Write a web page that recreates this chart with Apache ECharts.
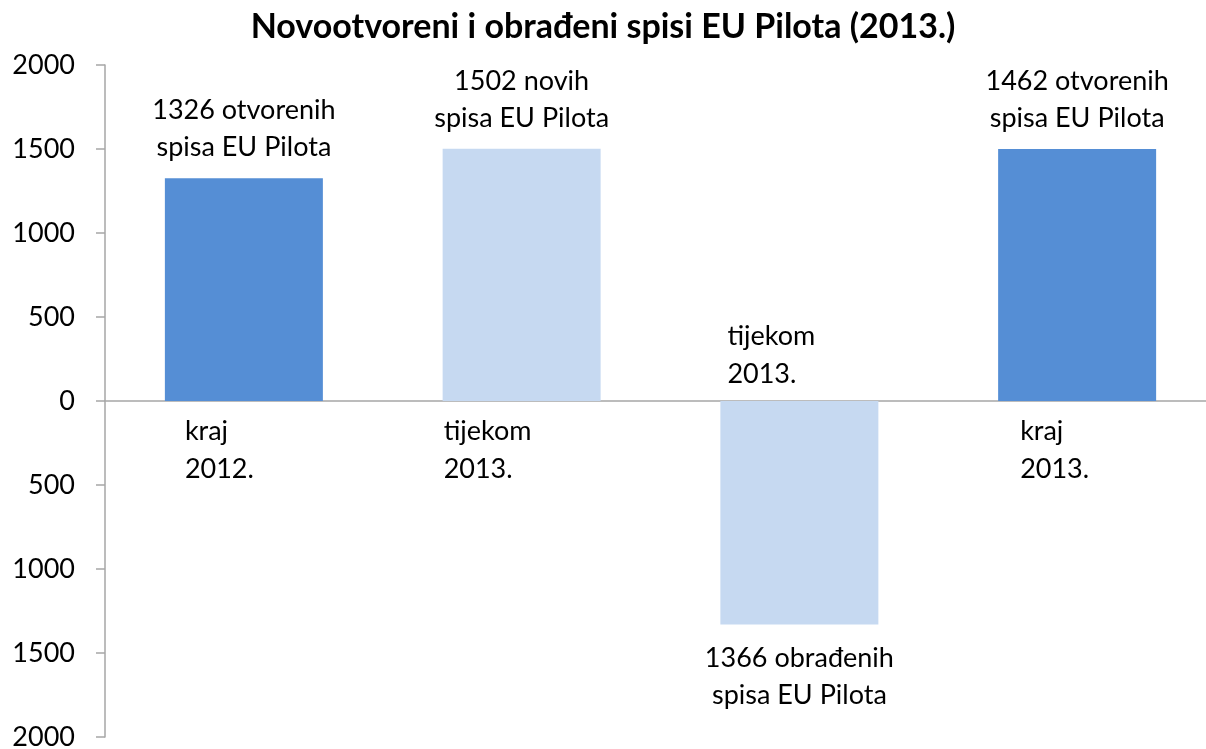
<!DOCTYPE html>
<html>
<head>
<meta charset="utf-8">
<script src="https://cdn.jsdelivr.net/npm/echarts@6/dist/echarts.min.js"></script>
<style>
  html, body { margin: 0; padding: 0; background: #fff; }
  #main { width: 1206px; height: 749px; }
</style>
</head>
<body>
<div id="main"></div>
<script>
// podaci
const categories = ['kraj\n2012.', 'tijekom\n2013.', 'tijekom\n2013.', 'kraj\n2013.'];
const values = [1326, 1502, -1330, 1500];
const valueLabels = [
  '1326 otvorenih\nspisa EU Pilota',
  '1502 novih\nspisa EU Pilota',
  '1366 obrađenih\nspisa EU Pilota',
  '1462 otvorenih\nspisa EU Pilota'
];
const yTicks = [-2000, -1500, -1000, -500, 0, 500, 1000, 1500, 2000];

const dark = '#558ED5';
const light = '#C6D9F1';
const barColors = [dark, light, light, dark];
const labelWidths = [118, 156, 144, 114];
const font = 'Lato, "Open Sans", sans-serif';
const fs = 27;

const chart = echarts.init(document.getElementById('main'));

const rich = {};
labelWidths.forEach(function (w, i) {
  rich['c' + i] = { width: w, align: 'left', fontSize: fs, lineHeight: 38, color: '#000', fontFamily: font };
});

chart.setOption({
  backgroundColor: '#fff',
  animation: false,
  title: {
    text: 'Novootvoreni i obrađeni spisi EU Pilota (2013.)',
    left: 'center',
    top: 5,
    textStyle: { fontFamily: font, fontWeight: 'bold', fontSize: 34, color: '#000' }
  },
  grid: { left: 105, right: -10, top: 65, bottom: 12, containLabel: false, outerBoundsMode: 'none' },
  xAxis: {
    type: 'category',
    offset: -336,
    data: categories.map(function (c, i) {
      if (values[i] < 0) {
        return { value: c, textStyle: { verticalAlign: 'bottom', padding: [0, 0, 19, 0] } };
      }
      return { value: c, textStyle: { verticalAlign: 'top' } };
    }),
    axisLine: { onZero: false, lineStyle: { color: '#A6A6A6', width: 1.5 } },
    axisTick: { show: false },
    axisLabel: {
      interval: 0,
      margin: 11,
      align: 'center',
      formatter: function (v, i) {
        return v.split('\n').map(function (s) { return '{c' + i + '|' + s + '}'; }).join('\n');
      },
      rich: rich
    }
  },
  yAxis: {
    type: 'value',
    min: yTicks[0],
    max: yTicks[yTicks.length - 1],
    interval: 500,
    splitLine: { show: false },
    axisLine: { show: true, lineStyle: { color: '#A6A6A6', width: 1.5 } },
    axisTick: { show: true, length: 9, lineStyle: { color: '#A6A6A6', width: 1.5 } },
    axisLabel: {
      margin: 30,
      fontSize: fs,
      color: '#000',
      fontFamily: font,
      formatter: function (v) { return String(Math.abs(v)); }
    }
  },
  series: [{
    type: 'bar',
    barWidth: 158,
    data: values.map(function (v, i) {
      return {
        value: v,
        itemStyle: { color: barColors[i] },
        label: {
          show: true,
          position: v < 0 ? 'bottom' : 'top',
          distance: v < 0 ? 15 : 12,
          formatter: valueLabels[i],
          fontSize: fs,
          lineHeight: 37,
          color: '#000',
          fontFamily: font
        }
      };
    })
  }]
});
</script>
</body>
</html>
